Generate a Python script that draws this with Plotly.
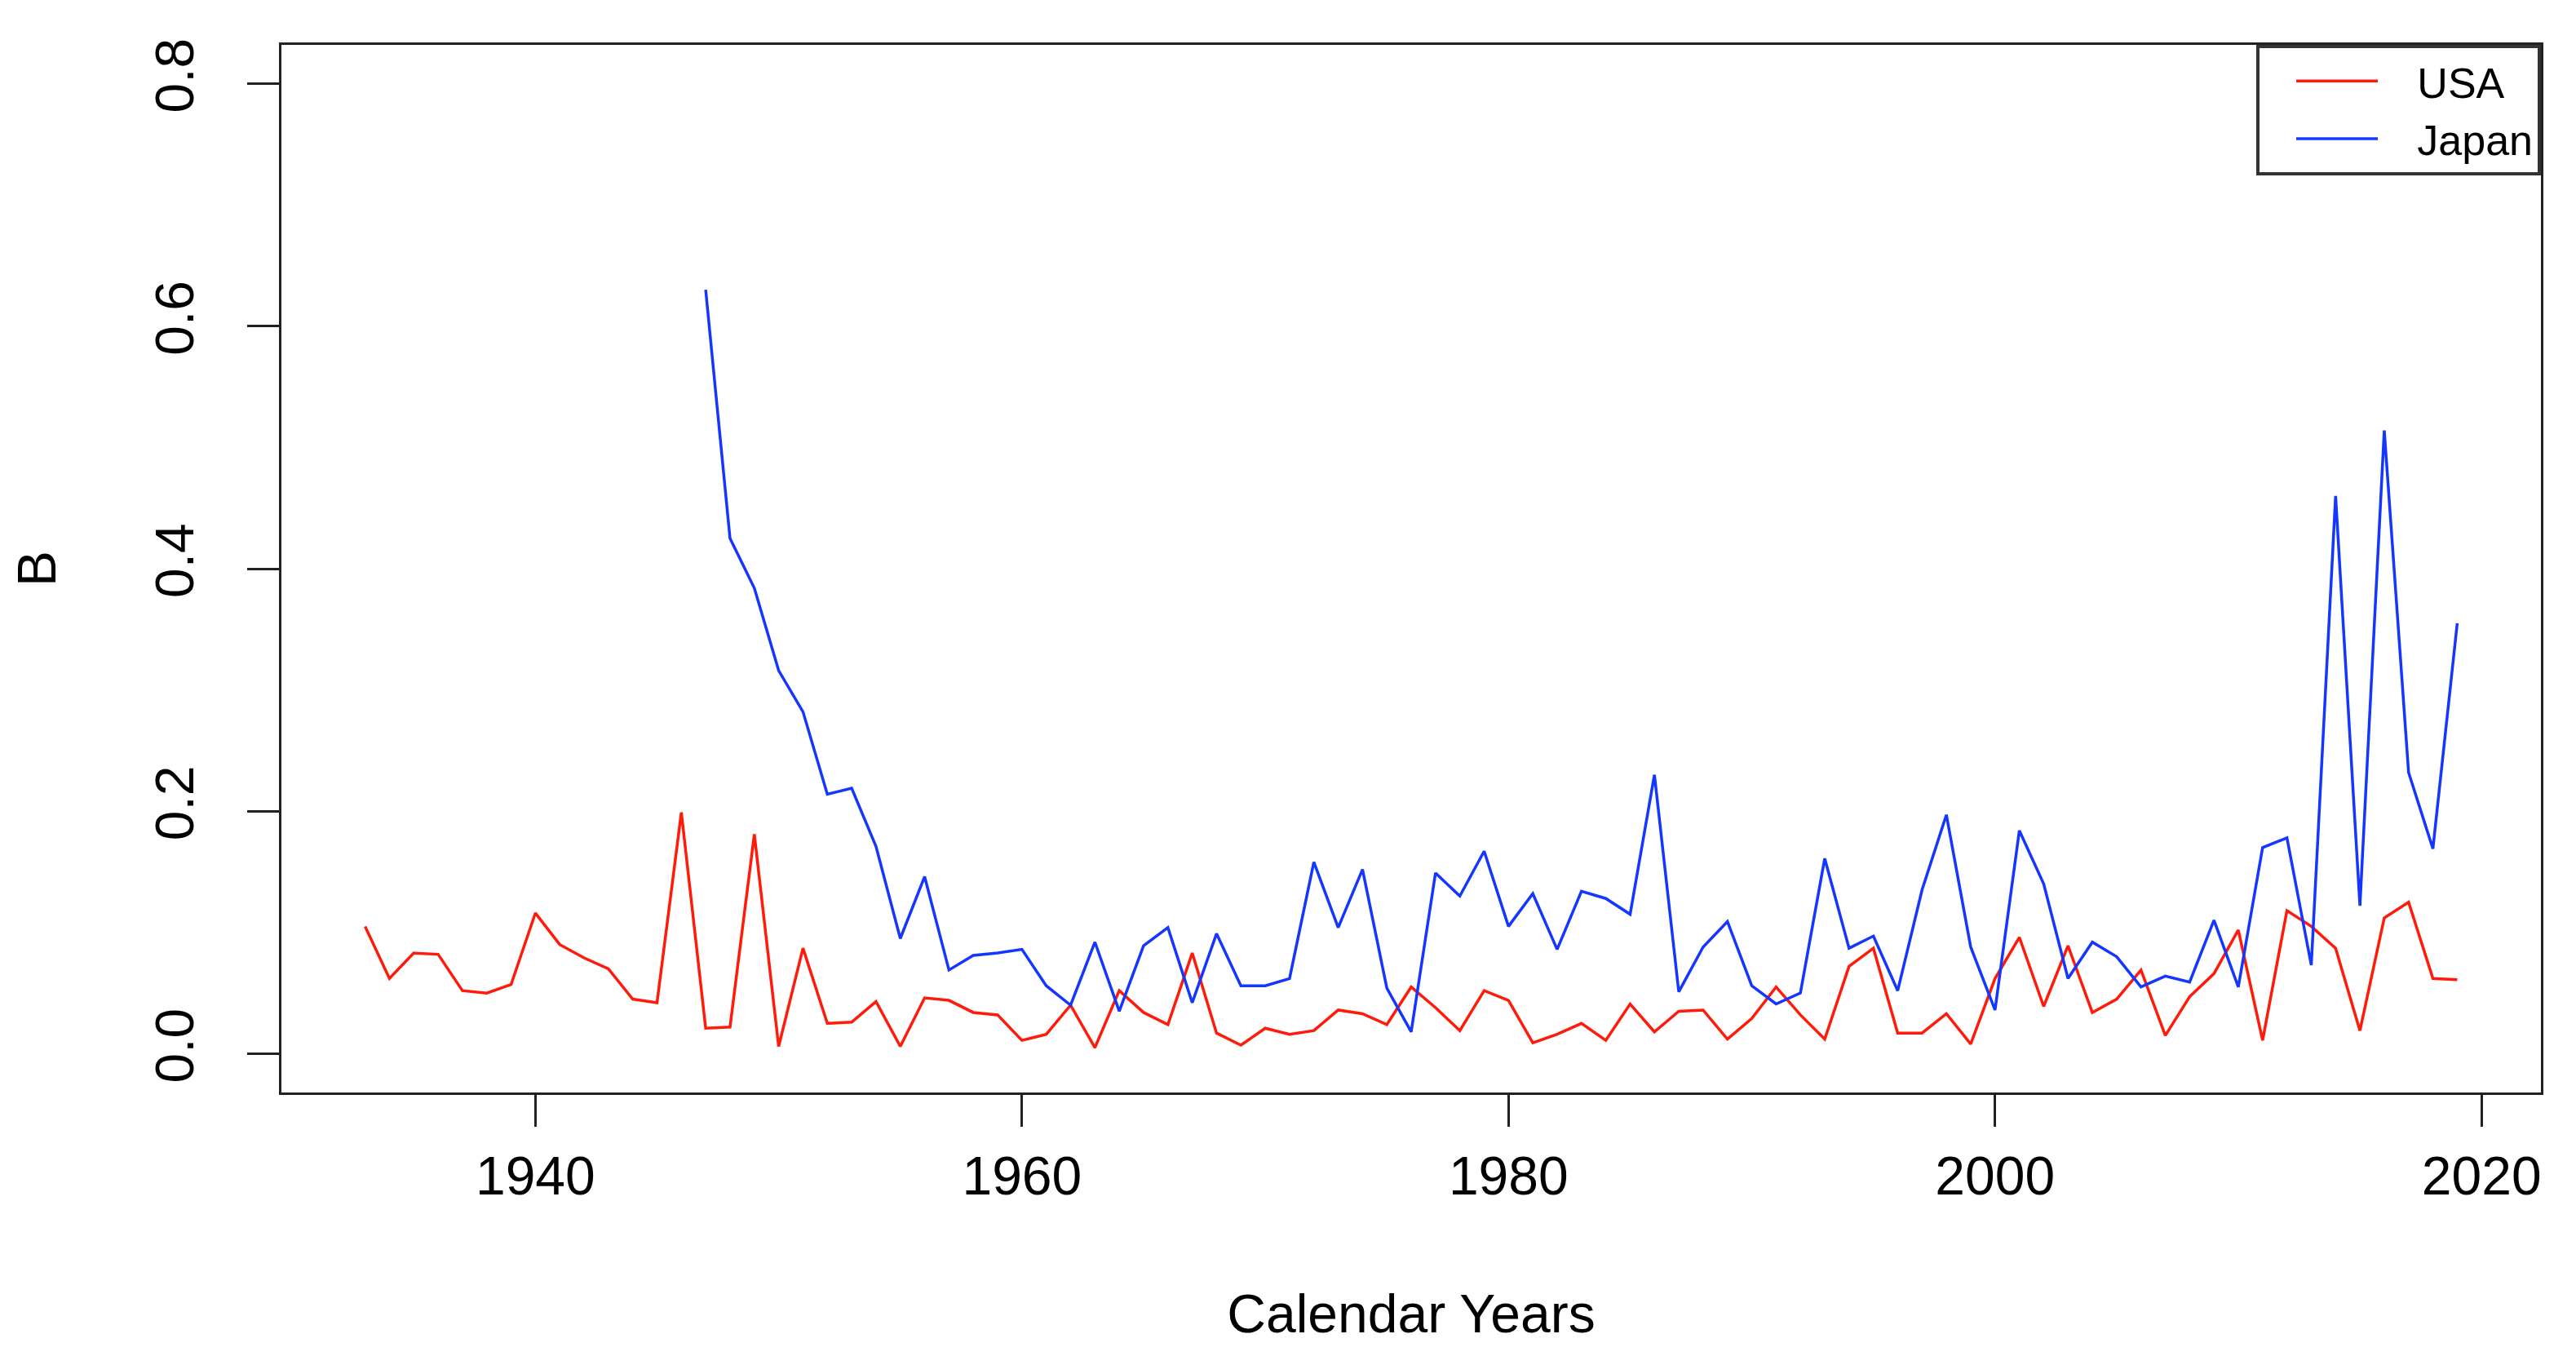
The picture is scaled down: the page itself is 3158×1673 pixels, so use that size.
import plotly.graph_objects as go

# Data
usa_years = list(range(1933, 2020))
usa_values = [
    0.105, 0.062, 0.083, 0.082, 0.052, 0.050, 0.057, 0.116, 0.090, 0.079,  # 1933-1942
    0.070, 0.045, 0.042, 0.199, 0.021, 0.022, 0.181, 0.006, 0.087, 0.025,  # 1943-1952
    0.026, 0.043, 0.006, 0.046, 0.044, 0.034, 0.032, 0.011, 0.016, 0.040,  # 1953-1962
    0.005, 0.052, 0.034, 0.024, 0.083, 0.017, 0.007, 0.021, 0.016, 0.019,  # 1963-1972
    0.036, 0.033, 0.024, 0.055, 0.038, 0.019, 0.052, 0.044, 0.009, 0.016,  # 1973-1982
    0.025, 0.011, 0.041, 0.018, 0.035, 0.036, 0.012, 0.029, 0.055, 0.032,  # 1983-1992
    0.012, 0.072, 0.087, 0.017, 0.017, 0.033, 0.008, 0.062, 0.096, 0.039,  # 1993-2002
    0.089, 0.034, 0.045, 0.069, 0.015, 0.047, 0.066, 0.102, 0.011, 0.118,  # 2003-2012
    0.105, 0.087, 0.019, 0.112, 0.125, 0.062, 0.061,                       # 2013-2019
]

japan_years = list(range(1947, 2020))
japan_values = [
    0.630, 0.425, 0.384, 0.316, 0.282, 0.214, 0.219, 0.171, 0.095, 0.146,  # 1947-1956
    0.069, 0.081, 0.083, 0.086, 0.056, 0.040, 0.092, 0.035, 0.089, 0.104,  # 1957-1966
    0.042, 0.099, 0.056, 0.056, 0.062, 0.158, 0.104, 0.152, 0.054, 0.018,  # 1967-1976
    0.149, 0.130, 0.167, 0.105, 0.132, 0.086, 0.134, 0.128, 0.115, 0.230,  # 1977-1986
    0.051, 0.088, 0.109, 0.056, 0.041, 0.050, 0.161, 0.087, 0.097, 0.052,  # 1987-1996
    0.135, 0.197, 0.088, 0.036, 0.184, 0.140, 0.062, 0.092, 0.080, 0.055,  # 1997-2006
    0.064, 0.059, 0.110, 0.055, 0.170, 0.178, 0.073, 0.460, 0.122, 0.514,  # 2007-2016
    0.232, 0.169, 0.355,                                                   # 2017-2019
]

series_names = ["USA", "Japan"]
x_ticks = [1940, 1960, 1980, 2000, 2020]
y_ticks = [0.0, 0.2, 0.4, 0.6, 0.8]
y_tick_text = ["0.0", "0.2", "0.4", "0.6", "0.8"]

FONT = "Liberation Sans, Arial, Helvetica, sans-serif"
GAP = "\u00a0\u00a0\u00a0"  # visual gap between legend line and label

fig = go.Figure()
fig.add_trace(go.Scatter(x=usa_years, y=usa_values, mode="lines",
                         name=GAP + series_names[0],
                         line=dict(color="#ff1a0a", width=3.5)))
fig.add_trace(go.Scatter(x=japan_years, y=japan_values, mode="lines",
                         name=GAP + series_names[1],
                         line=dict(color="#1436ff", width=3.5)))

fig.update_layout(
    width=3158, height=1673,
    margin=dict(l=332, r=51, t=47, b=342),
    paper_bgcolor="white", plot_bgcolor="white",
    font=dict(family=FONT, size=66, color="black"),
    showlegend=True,
    legend=dict(
        x=1, y=1, xanchor="right", yanchor="top",
        bgcolor="white", bordercolor="#333333", borderwidth=4,
        font=dict(size=52, color="black"),
        itemwidth=100, tracegroupgap=0, indentation=40,
    ),
)

fig.update_xaxes(
    range=[1929.56, 2022.44], tickvals=x_ticks,
    showgrid=False, zeroline=False,
    showline=True, linecolor="#222222", linewidth=3, mirror=True,
    ticks="outside", ticklen=39, tickwidth=2.5, tickcolor="#222222",
    tickfont=dict(size=66), ticklabelstandoff=4,
    title=dict(text="Calendar Years", font=dict(size=66), standoff=110),
)
fig.update_yaxes(
    range=[-0.032, 0.832], tickvals=y_ticks, ticktext=y_tick_text,
    showgrid=False, zeroline=False,
    showline=True, linecolor="#222222", linewidth=3, mirror=True,
    ticks="outside", ticklen=39, tickwidth=2.5, tickcolor="#222222",
    tickfont=dict(size=66), tickangle=-90, ticklabelstandoff=40,
    title=dict(text="B", font=dict(size=66), standoff=110),
)

fig.write_html("out.html")
